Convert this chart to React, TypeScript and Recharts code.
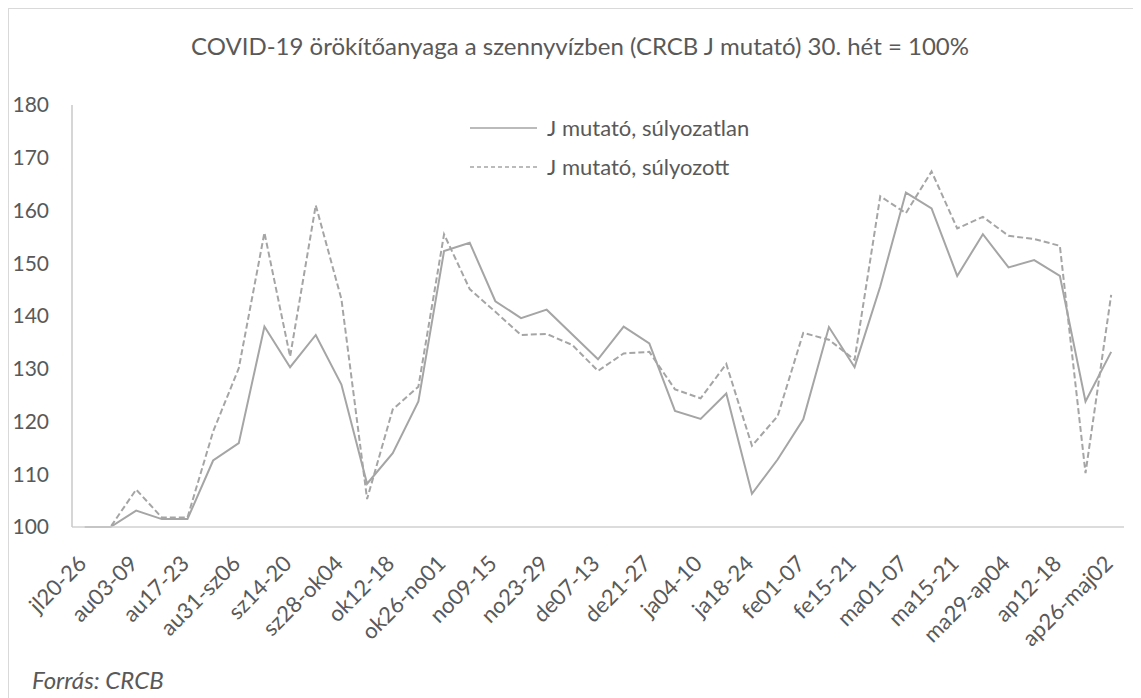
import React from 'react';
import { LineChart, Line, XAxis, YAxis, Legend } from 'recharts';

// weekly categories, jl20-26 .. ap26-maj02
const weeks = [
    'jl20-26', 'jl27-au02', 'au03-09', 'au10-16', 'au17-23', 'au24-30', 'au31-sz06',
    'sz07-13', 'sz14-20', 'sz21-27', 'sz28-ok04', 'ok05-11', 'ok12-18', 'ok19-25',
    'ok26-no01', 'no02-08', 'no09-15', 'no16-22', 'no23-29', 'no30-de06', 'de07-13',
    'de14-20', 'de21-27', 'de28-ja03', 'ja04-10', 'ja11-17', 'ja18-24', 'ja25-31',
    'fe01-07', 'fe08-14', 'fe15-21', 'fe22-28', 'ma01-07', 'ma08-14', 'ma15-21',
    'ma22-28', 'ma29-ap04', 'ap05-11', 'ap12-18', 'ap19-25', 'ap26-maj02',
];

const unweighted = [
    100, 100, 103.1, 101.5, 101.5, 112.6, 115.9, 138.0, 130.3, 136.4, 127.0,
    108.2, 114.0, 123.8, 152.3, 153.9, 142.8, 139.6, 141.2, 136.5, 131.8,
    138.0, 134.8, 122.0, 120.5, 125.3, 106.3, 112.8, 120.4, 137.9, 130.3,
    145.6, 163.4, 160.4, 147.6, 155.5, 149.2, 150.6, 147.6, 123.8, 133.2,
];

const weighted = [
    100, 100, 107.1, 101.8, 101.8, 118.1, 130.1, 155.8, 132.3, 161.0, 143.2,
    105.3, 122.3, 126.6, 155.5, 145.1, 140.8, 136.4, 136.6, 134.5, 129.6,
    132.9, 133.2, 126.1, 124.4, 130.9, 115.4, 121.0, 136.8, 135.5, 131.7,
    162.7, 159.5, 167.4, 156.6, 158.8, 155.2, 154.6, 153.3, 110.2, 144.0,
];

const yTicks = [100, 110, 120, 130, 140, 150, 160, 170, 180];

const series = [
    { key: 'unweighted', name: 'J mutató, súlyozatlan', dash: undefined as string | undefined },
    { key: 'weighted', name: 'J mutató, súlyozott', dash: '6 3' },
];

const chartData = weeks.map((w, i) => ({
    week: w,
    unweighted: unweighted[i],
    weighted: weighted[i],
}));

const FONT = 'Lato, "Open Sans", sans-serif';
const TEXT = '#595959';
const LINE = '#a5a5a5';

// rotated week label, text ends just right of the tick
const WeekTick = (props: any) => {
    const { x, y, payload } = props;
    return (
        <g transform={`translate(${x + 3},${y + 29})`}>
            <text x={0} y={0} textAnchor="end" transform="rotate(-45)" fill={TEXT} fontSize={22} fontFamily={FONT}>
                {payload.value}
            </text>
        </g>
    );
};

const renderLegend = () => (
    <div>
        {series.map(s => (
            <div key={s.key} style={{ display: 'flex', alignItems: 'center', height: 39 }}>
                <svg width={67} height={4} style={{ marginRight: 10 }}>
                    <line x1={0} y1={2} x2={67} y2={2} stroke={LINE} strokeWidth={1.5} strokeDasharray={s.dash ? '4 3' : undefined} />
                </svg>
                <span style={{ fontSize: 22, color: TEXT, fontFamily: FONT, whiteSpace: 'nowrap' }}>{s.name}</span>
            </div>
        ))}
    </div>
);

export default function App() {
    return (
        <div style={{
            position: 'relative', width: 1133, height: 690, boxSizing: 'border-box',
            borderTop: '1px solid #d9d9d9', borderLeft: '1px solid #d9d9d9',
            fontFamily: FONT, color: TEXT, background: '#fff',
        }}>
            <div style={{ position: 'absolute', left: 0, width: 1142, top: 22, textAlign: 'center', fontSize: 24, whiteSpace: 'nowrap' }}>
                COVID-19 örökítőanyaga a szennyvízben (CRCB J mutató) 30. hét = 100%
            </div>
            <LineChart width={1132} height={689} data={chartData}
                margin={{ top: 96, right: 17, left: 8, bottom: 51 }}>
                <XAxis dataKey="week" scale="band" interval={1} height={120}
                    axisLine={{ stroke: '#d0d0d0', strokeWidth: 1.5 }} tickLine={false} tickMargin={3}
                    tick={<WeekTick />} />
                <YAxis domain={[100, 180]} ticks={yTicks} width={55} interval={0}
                    axisLine={{ stroke: '#c8c8c8', strokeWidth: 1.5 }} tickLine={false} tickMargin={17}
                    tick={{ fill: TEXT, fontSize: 21, fontFamily: FONT }} />
                <Legend content={renderLegend} layout="vertical" verticalAlign="middle" align="center"
                    wrapperStyle={{ left: 461, top: 99, width: 320 }} />
                {series.map(s => (
                    <Line key={s.key} type="linear" dataKey={s.key} name={s.name} stroke={LINE}
                        strokeWidth={2} strokeDasharray={s.dash} dot={false} isAnimationActive={false} />
                ))}
            </LineChart>
            <div style={{ position: 'absolute', left: 23, top: 656, fontSize: 24, fontStyle: 'italic' }}>
                Forrás: CRCB
            </div>
        </div>
    );
}
